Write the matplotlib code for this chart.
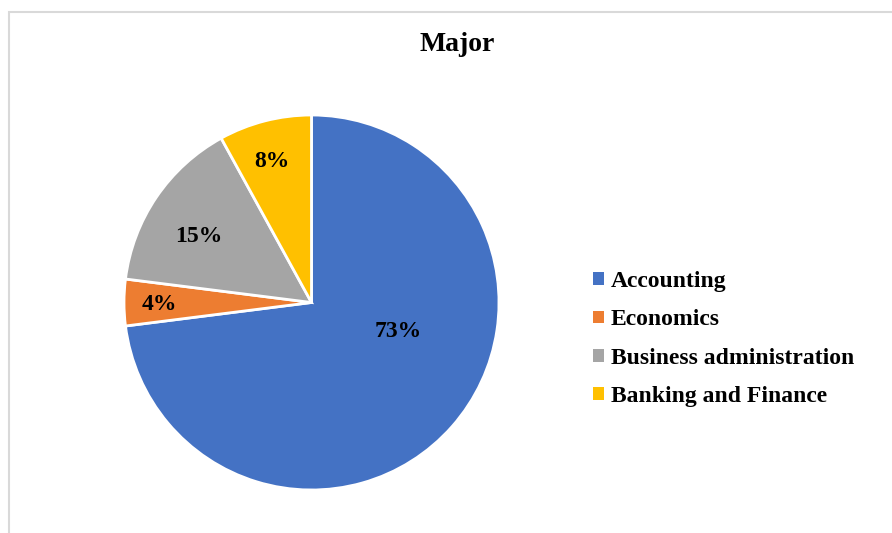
import matplotlib
matplotlib.use("Agg")
import matplotlib.pyplot as plt
from matplotlib.patches import Patch, Rectangle

# Data
majors = ["Accounting", "Economics", "Business administration", "Banking and Finance"]
shares = [73, 4, 15, 8]
colors = ["#4472C4", "#ED7D31", "#A5A5A5", "#FFC000"]
title = "Major"

plt.rcParams['font.family'] = ['Liberation Serif', 'DejaVu Serif']
plt.rcParams['font.weight'] = 'bold'

W, H = 892, 533
fig = plt.figure(figsize=(W / 100, H / 100), dpi=100)

# Chart area frame (light gray, only top and left visible)
fig.patches.append(Rectangle((9 / W, -0.1), 1.2, 1.1 - 12 / H, transform=fig.transFigure,
                             facecolor="none", edgecolor="#D9D9D9", linewidth=1.5))

# Pie axes placed so the circle spans the reference area
ax = fig.add_axes([124 / W, (H - 490) / H, 375 / W, 375 / H])
wedges, texts, autotexts = ax.pie(
    shares, colors=colors, startangle=90, counterclock=False,
    autopct=lambda p: f"{p:.0f}%", pctdistance=0.77,
    wedgeprops=dict(edgecolor="white", linewidth=2),
    textprops=dict(fontsize=17, fontweight="bold", color="black"),
)
# label placement as Excel does it (in radius units)
label_pos = [(0.46, -0.155), (-0.81, -0.01), (-0.60, 0.35), (-0.21, 0.75)]
for t, p in zip(autotexts, label_pos):
    t.set_position(p)
ax.set_xlim(-1, 1)
ax.set_ylim(-1, 1)
ax.axis("off")

fig.text(457 / W, 1 - 45 / H, title, ha="center", va="center", fontsize=20, fontweight="bold")

handles = [Patch(facecolor=c, edgecolor="none") for c in colors]
fig.legend(handles, majors, loc="center left", bbox_to_anchor=(572 / W, 1 - 339 / H),
           frameon=False, fontsize=17, handlelength=0.45, handleheight=0.45,
           handletextpad=0.3, labelspacing=0.74)

fig.savefig("out.png", dpi=100)
